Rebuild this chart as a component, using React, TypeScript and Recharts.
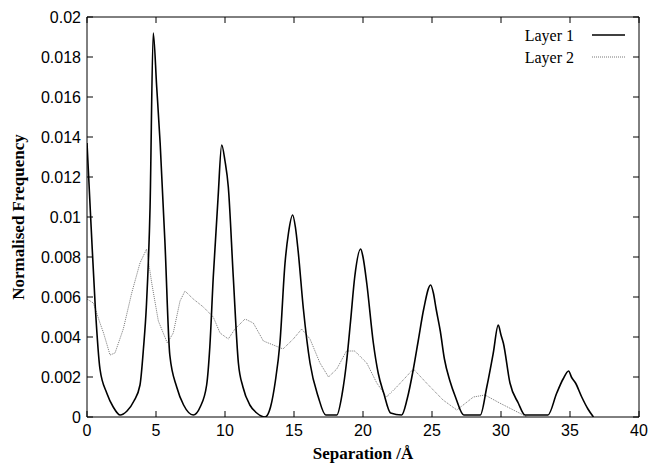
import { LineChart, Line, XAxis, YAxis } from 'recharts'

// Layer 1 (solid)
const layer1X = [
  0, 0.3, 0.6, 0.94, 1.43, 1.9, 2.4, 2.9, 3.4, 3.84, 4.1, 4.3, 4.57, 4.8, 5.05, 5.3, 5.65, 6.0, 6.5, 7.0,
  7.7, 8.2, 8.67, 8.9, 9.15, 9.5, 9.76, 10.0, 10.24, 10.6, 10.97, 11.3, 11.8, 12.3, 12.9, 13.3, 13.65,
  13.98, 14.35, 14.6, 14.9, 15.1, 15.3, 15.68, 16.16, 16.76, 17.3, 18.1, 18.5, 18.8, 19.1, 19.4, 19.83,
  20.0, 20.27, 20.75, 21.1, 21.5, 22.0, 22.8, 23.2, 23.65, 24.0, 24.4, 24.9, 25.1, 25.3, 25.6, 25.9, 26.3,
  26.7, 27.3, 28.5, 28.97, 29.44, 29.8, 30.0, 30.17, 30.65, 31.25, 31.74, 33.4, 34.04, 34.5, 34.9, 35.1,
  35.4, 35.85, 36.3, 36.7,
]
const layer1Y = [
  0.0137, 0.0095, 0.0055, 0.0024, 0.0012, 0.0005, 0.0001, 0.0003, 0.0008, 0.0016, 0.0035, 0.0055, 0.0105,
  0.0192, 0.0165, 0.0137, 0.0087, 0.0031, 0.0015, 0.0006, 0.0001, 0.0005, 0.0016, 0.0035, 0.007, 0.011,
  0.0136, 0.0128, 0.0115, 0.007, 0.0027, 0.0015, 0.0006, 0.0002, 0.0, 0.0005, 0.0018, 0.0037, 0.0077,
  0.0092, 0.0101, 0.0095, 0.0083, 0.0054, 0.0027, 0.001, 0.0001, 0.0001, 0.0012, 0.0027, 0.0048, 0.007,
  0.0084, 0.008, 0.0067, 0.0037, 0.0022, 0.0012, 0.0002, 0.0001, 0.0009, 0.0024, 0.0038, 0.0054, 0.0066,
  0.0062, 0.0054, 0.0043, 0.0029, 0.0018, 0.001, 0.0001, 0.0001, 0.0015, 0.0032, 0.0046, 0.0041, 0.0037,
  0.0017, 0.0007, 0.0001, 0.0001, 0.0012, 0.0019, 0.0023, 0.002, 0.0017, 0.001, 0.0004, 0.0,
]

// Layer 2 (dotted)
const layer2X = [
  0, 0.46, 0.94, 1.2, 1.67, 2.03, 2.63, 3.24, 3.84, 4.32, 4.69, 5.17, 5.82, 6.25, 6.74, 7.1, 7.7, 8.43,
  9.15, 9.64, 10.24, 10.72, 11.45, 12.05, 12.78, 13.86, 14.2, 14.95, 15.56, 16.16, 16.88, 17.5, 18.1, 18.8,
  19.4, 20.27, 21.0, 21.7, 22.44, 23.65, 24.6, 25.8, 26.8, 28.0, 28.84, 29.9, 30.9, 31.9,
]
const layer2Y = [
  0.0059, 0.0057, 0.0047, 0.0042, 0.0031, 0.0032, 0.0044, 0.0062, 0.0077, 0.0084, 0.0067, 0.0048, 0.0037,
  0.0042, 0.0058, 0.0063, 0.0059, 0.0055, 0.005, 0.0042, 0.0039, 0.0044, 0.0049, 0.0047, 0.0038, 0.0035,
  0.0034, 0.0039, 0.0044, 0.0039, 0.0027, 0.002, 0.0024, 0.0033, 0.0033, 0.0027, 0.0017, 0.001, 0.0015,
  0.0024, 0.0017, 0.00085, 0.00035, 0.001, 0.0011, 0.0007, 0.00035, 0.0,
]

const xTicks = [0, 5, 10, 15, 20, 25, 30, 35, 40]
const yTicks = [0, 0.002, 0.004, 0.006, 0.008, 0.01, 0.012, 0.014, 0.016, 0.018, 0.02]

const layer1 = layer1X.map((x, i) => ({ x, y: layer1Y[i] }))
const layer2 = layer2X.map((x, i) => ({ x, y: layer2Y[i] }))

const sans = 'Liberation Sans, Arial, sans-serif'
const serif = 'Liberation Serif, Times New Roman, serif'
const tickStyle = { fontSize: 16, fill: '#000', fontFamily: sans }
const tickLine = { stroke: '#000', strokeWidth: 1 }

const fmtY = (v: number) => (v === 0 ? '0' : String(Number(v.toFixed(3))))

function LegendBox() {
  const rows = [
    { name: 'Layer 1', stroke: '#000', width: 1.6, dash: undefined as string | undefined },
    { name: 'Layer 2', stroke: '#777', width: 1, dash: '1 1' },
  ]
  return (
    <svg width={140} height={50} style={{ position: 'absolute', left: 500, top: 26 }}>
      {rows.map((r, i) => (
        <g key={r.name}>
          <text x={74} y={9 + i * 22} textAnchor="end" dominantBaseline="central" fontFamily={serif} fontSize={16} fill="#000">
            {r.name}
          </text>
          <line x1={92} x2={125} y1={9 + i * 22} y2={9 + i * 22} stroke={r.stroke} strokeWidth={r.width} strokeDasharray={r.dash} />
        </g>
      ))}
    </svg>
  )
}

export default function App() {
  return (
    <div style={{ position: 'absolute', left: 0, top: 0, width: 650, height: 468, background: '#fff' }}>
      <LineChart width={650} height={468} margin={{ top: 16, right: 10, bottom: 0, left: 0 }}>
        <XAxis
          dataKey="x"
          type="number"
          domain={[0, 40]}
          ticks={xTicks}
          allowDataOverflow
          height={51}
          tick={tickStyle}
          tickLine={tickLine}
          tickSize={-6}
          tickMargin={14}
          stroke="#000"
          label={{
            content: () => (
              <text x={363} y={453} textAnchor="middle" dominantBaseline="central" fontFamily={serif} fontWeight="bold" fontSize={17} fill="#000">
                Separation /Å
              </text>
            ),
          }}
        />
        <XAxis
          xAxisId="top"
          orientation="top"
          dataKey="x"
          type="number"
          domain={[0, 40]}
          ticks={xTicks}
          allowDataOverflow
          height={1}
          tickLine={tickLine}
          tickSize={-6}
          tickFormatter={() => ''}
          stroke="#000"
        />
        <YAxis
          type="number"
          domain={[0, 0.02]}
          ticks={yTicks}
          allowDataOverflow
          width={87}
          tick={tickStyle}
          tickLine={tickLine}
          tickSize={-6}
          tickMargin={12}
          tickFormatter={fmtY}
          stroke="#000"
          label={{
            content: () => (
              <text x={18} y={217} transform="rotate(-90 18 217)" textAnchor="middle" dominantBaseline="central" fontFamily={serif} fontWeight="bold" fontSize={17} fill="#000">
                Normalised Frequency
              </text>
            ),
          }}
        />
        <YAxis
          yAxisId="right"
          orientation="right"
          type="number"
          domain={[0, 0.02]}
          ticks={yTicks}
          allowDataOverflow
          width={1}
          tickLine={tickLine}
          tickSize={-6}
          tickFormatter={() => ''}
          stroke="#000"
        />
        <Line
          data={layer2}
          dataKey="y"
          name="Layer 2"
          type="linear"
          stroke="#777"
          strokeWidth={1}
          strokeDasharray="1 1"
          dot={false}
          isAnimationActive={false}
        />
        <Line
          data={layer1}
          dataKey="y"
          name="Layer 1"
          type="monotone"
          stroke="#000"
          strokeWidth={1.6}
          dot={false}
          isAnimationActive={false}
        />
      </LineChart>
      <LegendBox />
    </div>
  )
}
